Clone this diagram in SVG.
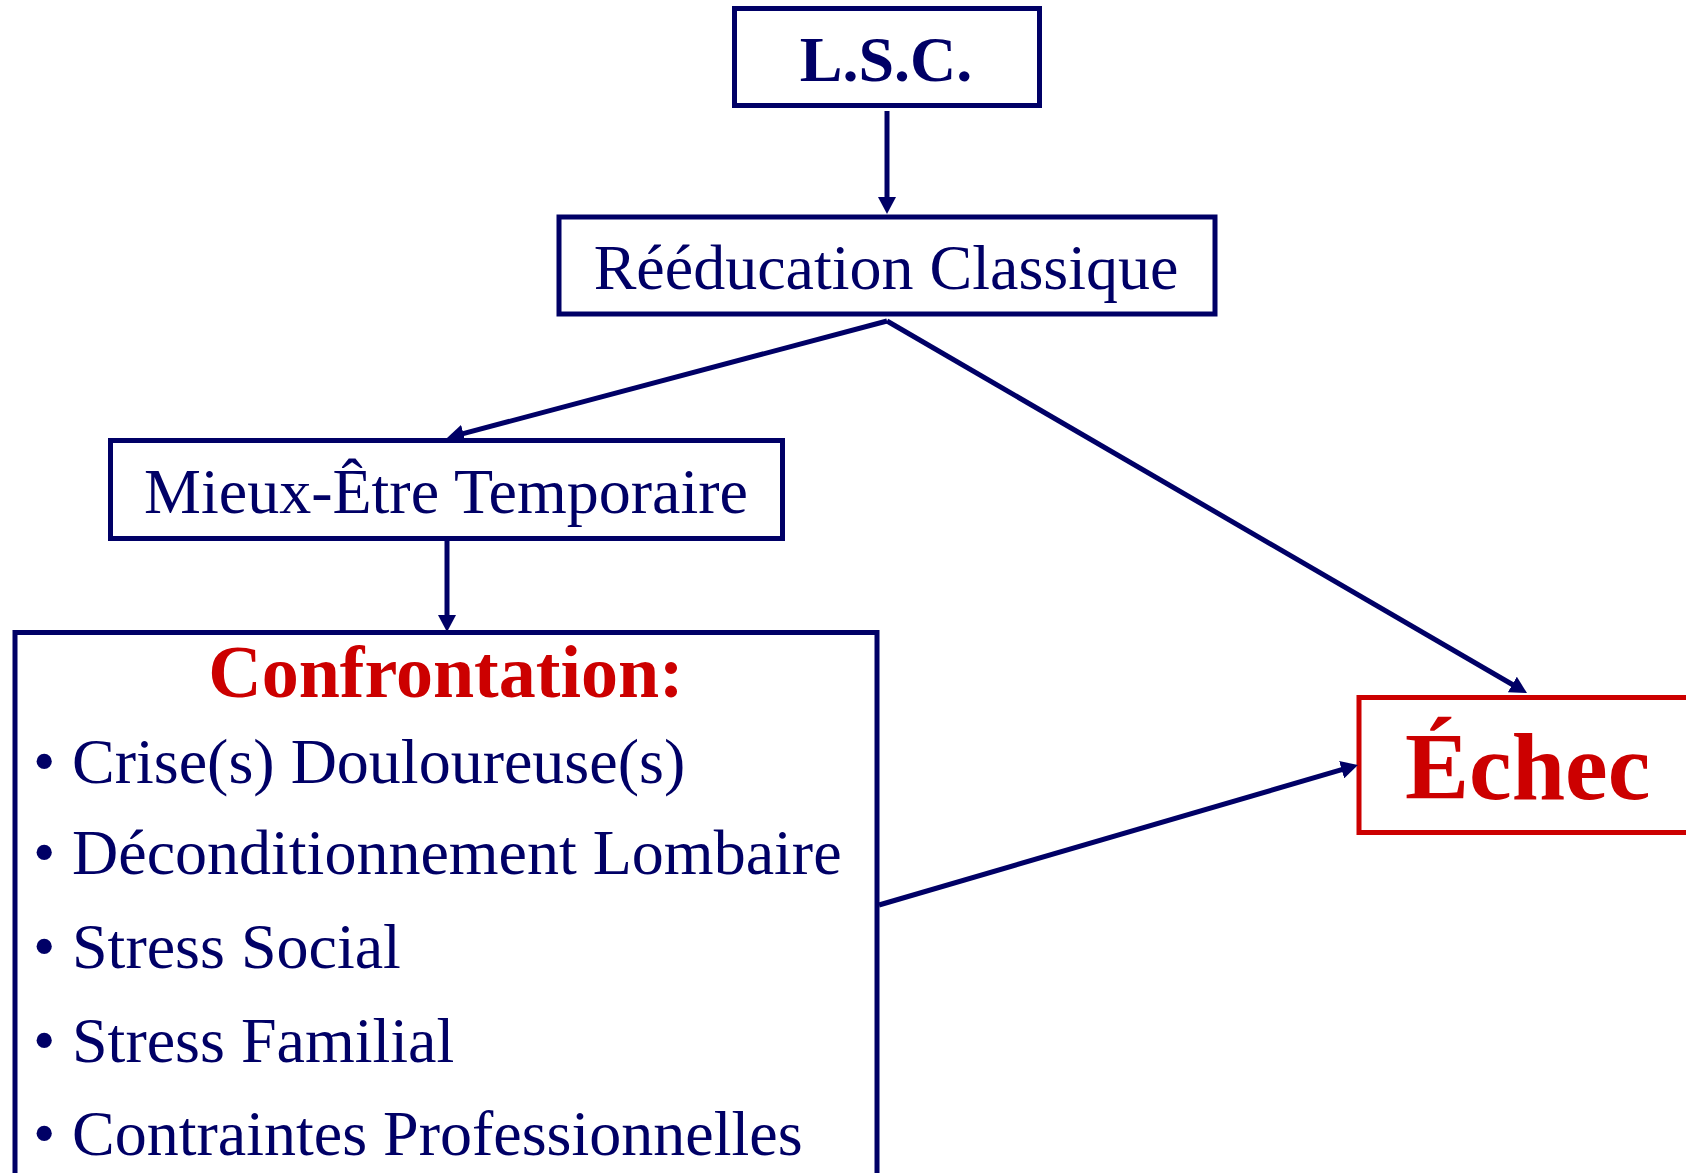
<svg xmlns="http://www.w3.org/2000/svg" width="1686" height="1173" viewBox="0 0 1686 1173">
<style>
.box{fill:#ffffff;stroke:#000066;stroke-width:5}
.rbox{fill:#ffffff;stroke:#cc0000;stroke-width:5}
.t{font-family:"Liberation Serif","Times New Roman",serif;font-size:64px;fill:#000066}
.b{font-weight:bold}
.red{fill:#cc0000}
.mid{text-anchor:middle}
.conn line{stroke:#000066;stroke-width:5;fill:none}
</style>
<defs>
<marker id="ah" markerUnits="userSpaceOnUse" markerWidth="18" markerHeight="18" viewBox="0 0 18 18" refX="9" refY="9" orient="auto">
<path d="M0,0 L17,9 L0,18 z" fill="#000066"/>
</marker>
</defs>
<rect width="1686" height="1173" fill="#ffffff"/>
<g id="lsc">
<rect class="box" x="734.5" y="8.5" width="305" height="97"/>
<text class="t b mid" x="886" y="81">L.S.C.</text>
</g>
<g id="reeducation">
<rect class="box" x="559" y="217" width="656" height="97"/>
<text class="t mid" x="886" y="289">Rééducation Classique</text>
</g>
<g id="mieux-etre">
<rect class="box" x="110.5" y="440.5" width="672" height="98"/>
<text class="t mid" x="446" y="513">Mieux-Être Temporaire</text>
</g>
<g id="confrontation">
<rect class="box" x="15" y="632.5" width="862" height="600"/>
<text class="t b red mid" style="font-size:74px" x="446" y="697">Confrontation:</text>
<text class="t" x="33" y="783">•</text><text class="t" x="72" y="783">Crise(s) Douloureuse(s)</text>
<text class="t" x="33" y="874">•</text><text class="t" x="72" y="874">Déconditionnement Lombaire</text>
<text class="t" x="33" y="968">•</text><text class="t" x="72" y="968">Stress Social</text>
<text class="t" x="33" y="1062">•</text><text class="t" x="72" y="1062">Stress Familial</text>
<text class="t" x="33" y="1155">•</text><text class="t" x="72" y="1155">Contraintes Professionnelles</text>
</g>
<g id="echec">
<rect class="rbox" x="1359" y="697.5" width="400" height="135"/>
<text class="t b red" style="font-size:96px" x="1405" y="799">Échec</text>
</g>
<g id="connectors" class="conn">
<line x1="887" y1="111" x2="887" y2="206" marker-end="url(#ah)"/>
<line x1="887" y1="321" x2="454.7" y2="435.9" marker-end="url(#ah)"/>
<line x1="887" y1="321" x2="1520.1" y2="689" marker-end="url(#ah)"/>
<line x1="447" y1="541" x2="447" y2="624" marker-end="url(#ah)"/>
<line x1="879" y1="905" x2="1350.3" y2="767.2" marker-end="url(#ah)"/>
</g>
</svg>
